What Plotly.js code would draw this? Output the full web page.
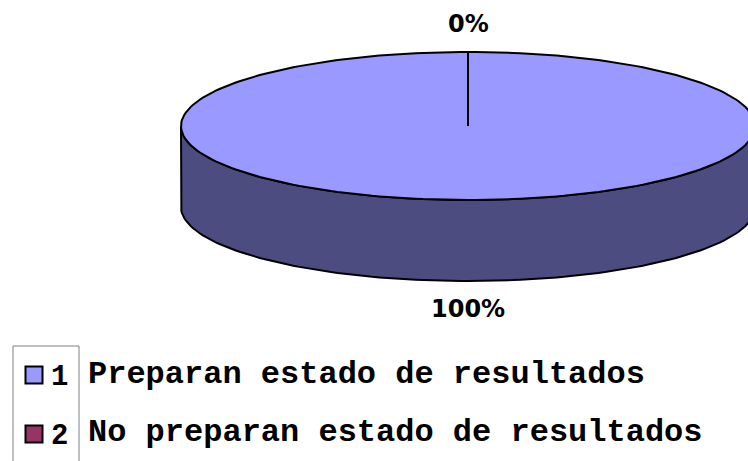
<!DOCTYPE html>
<html>
<head>
<meta charset="utf-8">
<script src="https://cdn.plot.ly/plotly-3.0.1.min.js"></script>
<style>html,body{margin:0;padding:0;background:#fff;}#chart{width:748px;height:461px;}</style>
</head>
<body>
<div id="chart"></div>
<script>
// ---- data ----
const categories = ["1", "2"];
const legendLabels = ["Preparan estado de resultados", "No preparan estado de resultados"];
const values = [100, 0];
const percentLabels = ["100%", "0%"];
const topColors = ["#9999FF", "#993366"];
const sideColors = ["#4C4C80", "#4D1A33"];

// ---- geometry (layout constants) ----
const W = 748, H = 461;
const cx = 468, cy = 126, rx = 287, ry = 74, depth = 81;
const startAngle = 90; // degrees, 12 o'clock, clockwise
const monoFont = "'Liberation Mono', 'Courier New', Cousine, Courier, monospace";

const rad = d => d * Math.PI / 180;
const ex = (a) => cx + rx * Math.cos(rad(a));
const ey = (a, dy) => cy - ry * Math.sin(rad(a)) + (dy || 0);

function arc(a0, a1, dy, n) {
  const xs = [], ys = [];
  for (let i = 0; i <= n; i++) {
    const a = a0 + (a1 - a0) * i / n;
    xs.push(ex(a)); ys.push(ey(a, dy));
  }
  return [xs, ys];
}

const total = values.reduce((s, v) => s + v, 0);
const slices = [];
let acc = startAngle;
values.forEach((v, i) => {
  const sweep = 360 * v / total;
  slices.push({a0: acc, a1: acc - sweep, i});
  acc -= sweep;
});

const traces = [];
// side walls (front half: angles between -180 and 0, mod 360)
slices.forEach(s => {
  const hi = s.a0, lo = s.a1;
  for (let k = -2; k <= 1; k++) {
    const fLo = -180 + 360 * k, fHi = 0 + 360 * k;
    const a = Math.min(hi, fHi), b = Math.max(lo, fLo);
    if (a - b > 0.01) {
      const [tx, ty] = arc(a, b, 0, 120);
      const [bx, by] = arc(b, a, depth, 120);
      traces.push({
        type: "scatter", mode: "lines", x: tx.concat(bx, [tx[0]]), y: ty.concat(by, [ty[0]]),
        fill: "toself", fillcolor: sideColors[s.i],
        line: {color: "#000", width: 2}, hoverinfo: "skip", showlegend: false
      });
    }
  }
});
// top faces
slices.forEach(s => {
  const n = Math.max(2, Math.ceil(Math.abs(s.a0 - s.a1) / 1.5));
  const [ax, ay] = arc(s.a0, s.a1, 0, n);
  traces.push({
    type: "scatter", mode: "lines",
    x: [cx].concat(ax, [cx]), y: [cy].concat(ay, [cy]),
    fill: "toself", fillcolor: topColors[s.i],
    line: {color: "#000", width: 2}, hoverinfo: "skip", showlegend: false
  });
});
// legend markers
traces.push({
  type: "scatter", mode: "markers",
  x: categories.map(() => 34), y: categories.map((c, i) => 375 + i * 59),
  marker: {symbol: "square", size: 17, color: topColors, line: {color: "#000", width: 2}},
  hoverinfo: "skip", showlegend: false
});

const annotations = [];
slices.forEach(s => {
  const mid = (s.a0 + s.a1) / 2;
  const sn = Math.sin(rad(mid));
  const off = 30;
  const x = cx + (rx + off) * Math.cos(rad(mid));
  const y = cy - (ry + off) * sn + (sn < 0 ? depth - 2 : 2);
  annotations.push({x, y, xref: "x", yref: "y", text: percentLabels[s.i], showarrow: false,
    font: {family: "DejaVu Sans", size: 24, color: "#000", weight: "bold"}, xanchor: "center", yanchor: "middle"});
});
categories.forEach((c, i) => {
  annotations.push({x: 59, y: 377 + i * 59, xref: "x", yref: "y", text: c, showarrow: false,
    font: {family: monoFont, size: 29, color: "#000", weight: "bold"}, xanchor: "center", yanchor: "middle"});
  annotations.push({x: 86, y: 374 + i * 58, xref: "x", yref: "y", text: legendLabels[i], showarrow: false,
    font: {family: monoFont, size: 32, color: "#000", weight: "bold"}, xanchor: "left", yanchor: "middle"});
});

const layout = {
  width: W, height: H,
  margin: {l: 0, r: 0, t: 0, b: 0},
  paper_bgcolor: "#fff", plot_bgcolor: "#fff",
  xaxis: {range: [0, W], visible: false, fixedrange: true},
  yaxis: {range: [H, 0], visible: false, fixedrange: true},
  showlegend: false,
  annotations,
  shapes: [
    {type: "rect", xref: "x", yref: "y", x0: 13, x1: 79, y0: 346, y1: 470, line: {color: "#808080", width: 1}, fillcolor: "rgba(0,0,0,0)"}
  ]
};

Plotly.newPlot("chart", traces, layout, {displayModeBar: false, staticPlot: true});
</script>
</body>
</html>
